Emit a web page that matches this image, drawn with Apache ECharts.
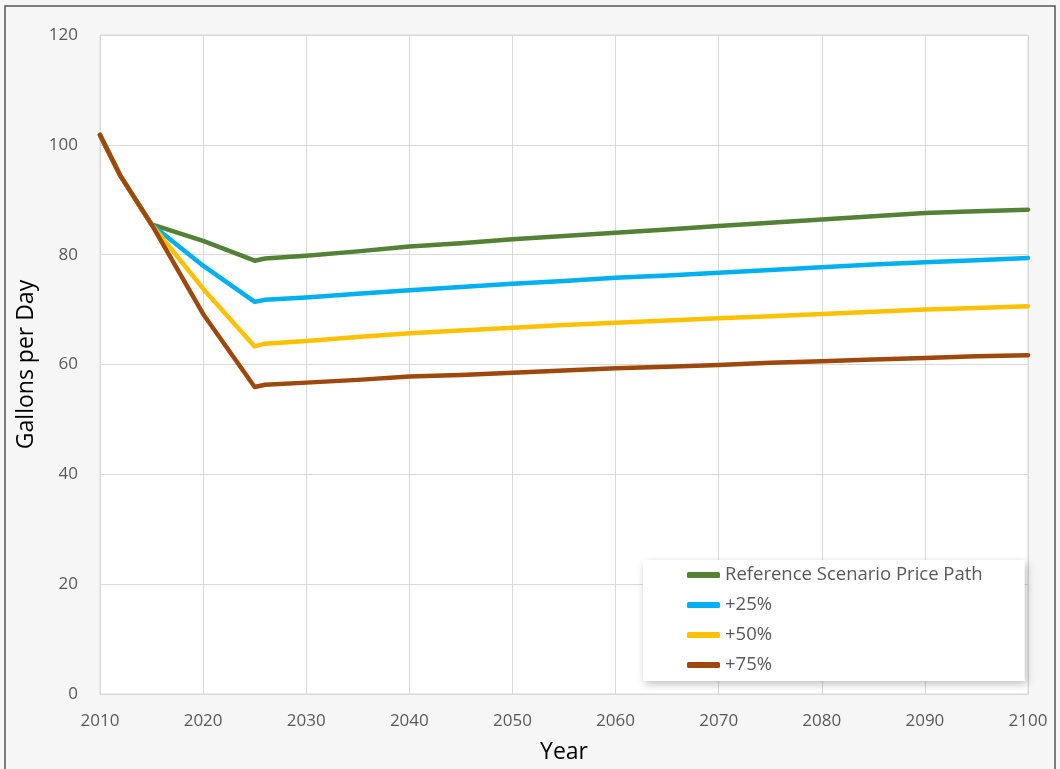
<!DOCTYPE html>
<html>
<head>
<meta charset="utf-8">
<script src="https://cdn.jsdelivr.net/npm/echarts@6/dist/echarts.min.js"></script>
<style>
    html, body { margin: 0; padding: 0; background: #f6f6f6; }
    #chart { width: 1060px; height: 769px; }
</style>
</head>
<body>
<div id="chart"></div>
<script>
    // years
    var years = [2010, 2012, 2015, 2020, 2025, 2026, 2030, 2035, 2040, 2045, 2050, 2055, 2060, 2065, 2070, 2075, 2080, 2085, 2090, 2095, 2100];

    var reference = [101.8, 94.3, 85.5, 82.5, 78.9, 79.3, 79.8, 80.6, 81.5, 82.1, 82.8, 83.4, 84.0, 84.6, 85.2, 85.8, 86.4, 87.0, 87.6, 87.9, 88.2];
    var plus25    = [101.8, 94.3, 85.5, 78.0, 71.4, 71.8, 72.2, 72.9, 73.5, 74.1, 74.7, 75.2, 75.8, 76.2, 76.7, 77.2, 77.7, 78.2, 78.6, 79.0, 79.4];
    var plus50    = [101.8, 94.3, 85.5, 73.8, 63.3, 63.8, 64.3, 65.0, 65.7, 66.2, 66.7, 67.2, 67.6, 68.0, 68.4, 68.8, 69.2, 69.6, 70.0, 70.3, 70.6];
    var plus75    = [101.8, 94.3, 85.5, 69.2, 55.9, 56.3, 56.7, 57.2, 57.8, 58.1, 58.5, 58.9, 59.3, 59.6, 59.9, 60.3, 60.6, 60.9, 61.2, 61.5, 61.7];

    var names = ['Reference Scenario Price Path', '+25%', '+50%', '+75%'];
    var colors = ['#538135', '#00b0f0', '#ffc000', '#9e480e'];
    var values = [reference, plus25, plus50, plus75];

    var chart = echarts.init(document.getElementById('chart'));

    var series = names.map(function (name, i) {
        return {
            name: name,
            type: 'line',
            showSymbol: false,
            lineStyle: { width: 4.5, color: colors[i], cap: 'round', join: 'round' },
            itemStyle: { color: colors[i] },
            data: years.map(function (y, k) { return [y, values[i][k]]; })
        };
    });

    var option = {
        backgroundColor: '#f6f6f6',
        animation: false,
        textStyle: { fontFamily: 'Open Sans' },
        graphic: [{
            type: 'rect',
            shape: { x: 5, y: 6, width: 1050, height: 800 },
            style: { fill: 'none', stroke: '#555', lineWidth: 1.5 },
            silent: true
        }],
        grid: {
            left: 100,
            right: 32,
            top: 35,
            bottom: 72,
            show: true,
            backgroundColor: '#ffffff',
            borderColor: '#d9d9d9',
            borderWidth: 1
        },
        legend: {
            data: names,
            orient: 'vertical',
            left: 643,
            top: 560,
            padding: [5, 42, 6, 44],
            itemWidth: 33,
            itemHeight: 6,
            itemGap: 10,
            icon: 'roundRect',
            backgroundColor: '#ffffff',
            shadowBlur: 8,
            shadowColor: 'rgba(0,0,0,0.25)',
            shadowOffsetX: 2,
            shadowOffsetY: 3,
            textStyle: { fontSize: 18.5, color: '#595959', lineHeight: 20 }
        },
        xAxis: {
            type: 'value',
            min: 2010,
            max: 2100,
            interval: 10,
            name: 'Year',
            nameLocation: 'middle',
            nameGap: 47,
            nameTextStyle: { fontSize: 23, color: '#000' },
            axisLine: { show: true, lineStyle: { color: '#d9d9d9' } },
            axisTick: { show: false },
            axisLabel: { fontSize: 17, color: '#595959', margin: 19, formatter: function (v) { return String(v); } },
            splitLine: { lineStyle: { color: '#d9d9d9' } }
        },
        yAxis: {
            type: 'value',
            min: 0,
            max: 120,
            interval: 20,
            name: 'Gallons per Day',
            nameLocation: 'middle',
            nameGap: 55,
            nameTextStyle: { fontSize: 23, color: '#000' },
            axisLine: { show: false },
            axisTick: { show: false },
            axisLabel: { fontSize: 17, color: '#595959', margin: 22 },
            splitLine: { lineStyle: { color: '#d9d9d9' } }
        },
        series: series
    };

    chart.setOption(option);
</script>
</body>
</html>
